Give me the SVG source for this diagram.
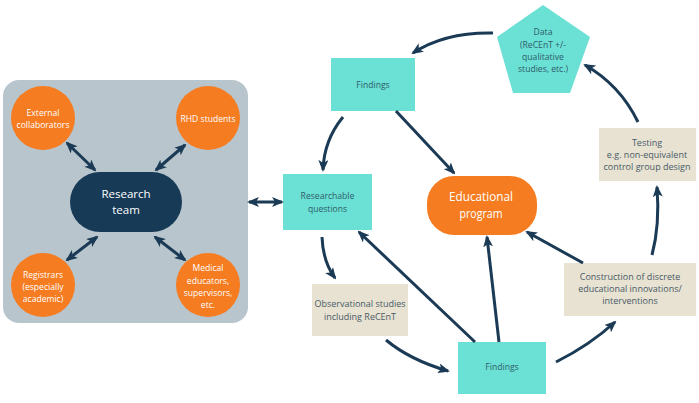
<svg xmlns="http://www.w3.org/2000/svg" width="699" height="403" viewBox="0 0 699 403">
<defs>
<marker id="ah" viewBox="0 0 12 10" refX="10" refY="5" markerWidth="12" markerHeight="10" markerUnits="userSpaceOnUse" orient="auto-start-reverse">
<path d="M0,0 L12,5 L0,10 L3,5 z" fill="#1b3a55"/>
</marker>
<style>
text{font-family:"Open Sans","Liberation Sans",sans-serif;text-anchor:middle}
.w{fill:#ffffff;font-size:8.6px}
.t{fill:#2e5d6b;font-size:8.6px}
.b{fill:#4a5a68;font-size:9px}
.turq{fill:#6be0d4}
.beige{fill:#e7e2d1}
.org{fill:#f57c21}
.c path,.c line{stroke:#1b3a55;stroke-width:3;fill:none;marker-end:url(#ah)}
.c .d{marker-start:url(#ah)}
</style>
</defs>
<rect x="3" y="80" width="245" height="243" rx="16" fill="#b8c5cd"/>
<g id="external"><circle cx="43" cy="118" r="32" class="org"/><text class="w" x="43" y="116">External</text><text class="w" x="43" y="128">collaborators</text></g>
<g id="rhd"><circle cx="208" cy="118" r="32" class="org"/><text class="w" x="208" y="122">RHD students</text></g>
<g id="registrars"><circle cx="43" cy="285" r="32" class="org"/><text class="w" x="43" y="278">Registrars</text><text class="w" x="43" y="290">(especially</text><text class="w" x="43" y="302">academic)</text></g>
<g id="medical"><circle cx="208" cy="285" r="32" class="org"/><text class="w" x="208" y="271">Medical</text><text class="w" x="208" y="284">educators,</text><text class="w" x="208" y="296">supervisors,</text><text class="w" x="208" y="308">etc.</text></g>
<g id="team"><rect x="70" y="172" width="112" height="60" rx="30" fill="#173a56"/><text x="126" y="198" fill="#fff" font-size="11.5">Research</text><text x="126" y="214" fill="#fff" font-size="11.5">team</text></g>
<g id="rq"><rect x="283" y="174" width="89" height="56" class="turq"/><text class="t" x="327.5" y="199">Researchable</text><text class="t" x="327.5" y="212">questions</text></g>
<g id="findings-top"><rect x="331" y="58" width="84" height="53" class="turq"/><text class="t" x="373" y="88">Findings</text></g>
<g id="data"><polygon points="543,5 590,37 570,93 513,93 497,37" class="turq"/><text class="t" x="543" y="35">Data</text><text class="t" x="543" y="48">(ReCEnT +/-</text><text class="t" x="543" y="60">qualitative</text><text class="t" x="543" y="72">studies, etc.)</text></g>
<g id="testing"><rect x="599" y="128" width="97" height="53" class="beige"/><text class="b" x="647" y="146">Testing</text><text class="b" x="647" y="158">e.g. non-equivalent</text><text class="b" x="647" y="170">control group design</text></g>
<g id="program"><rect x="427" y="176" width="110" height="59" rx="27" class="org"/><text x="481" y="201" fill="#fff" font-size="13" textLength="64" lengthAdjust="spacingAndGlyphs">Educational</text><text x="481" y="218" fill="#fff" font-size="13" textLength="43" lengthAdjust="spacingAndGlyphs">program</text></g>
<g id="observational"><rect x="312" y="284" width="96" height="52" class="beige"/><text class="b" x="360" y="307">Observational studies</text><text class="b" x="360" y="320">including ReCEnT</text></g>
<g id="findings-bottom"><rect x="458" y="342" width="88" height="52" class="turq"/><text class="t" x="502" y="370">Findings</text></g>
<g id="construction"><rect x="564" y="263" width="132" height="53" class="beige"/><text class="b" x="630" y="280">Construction of discrete</text><text class="b" x="630" y="292">educational innovations/</text><text class="b" x="630" y="304">interventions</text></g>
<g id="connectors" class="c">
<line class="d" x1="67" y1="143" x2="95" y2="170"/>
<line class="d" x1="185" y1="145" x2="156" y2="170"/>
<line class="d" x1="67" y1="260" x2="97" y2="237"/>
<line class="d" x1="155" y1="237" x2="185" y2="260"/>
<line class="d" x1="249" y1="202" x2="282" y2="202"/>
<path d="M493,33 Q445,32 413,53"/>
<path d="M343,117 Q324,140 323,170"/>
<line x1="396" y1="111" x2="454" y2="173"/>
<path d="M638,122 Q620,85 585,65"/>
<path d="M652,255 Q660,225 657,187"/>
<path d="M322,237 Q323,262 335,278"/>
<path d="M386,340 Q410,360 448,371"/>
<line x1="475" y1="342" x2="359" y2="232"/>
<line x1="499" y1="342" x2="487" y2="237"/>
<line x1="583" y1="263" x2="527" y2="232"/>
<path d="M556,362 Q590,345 615,322"/>
</g>
</svg>
